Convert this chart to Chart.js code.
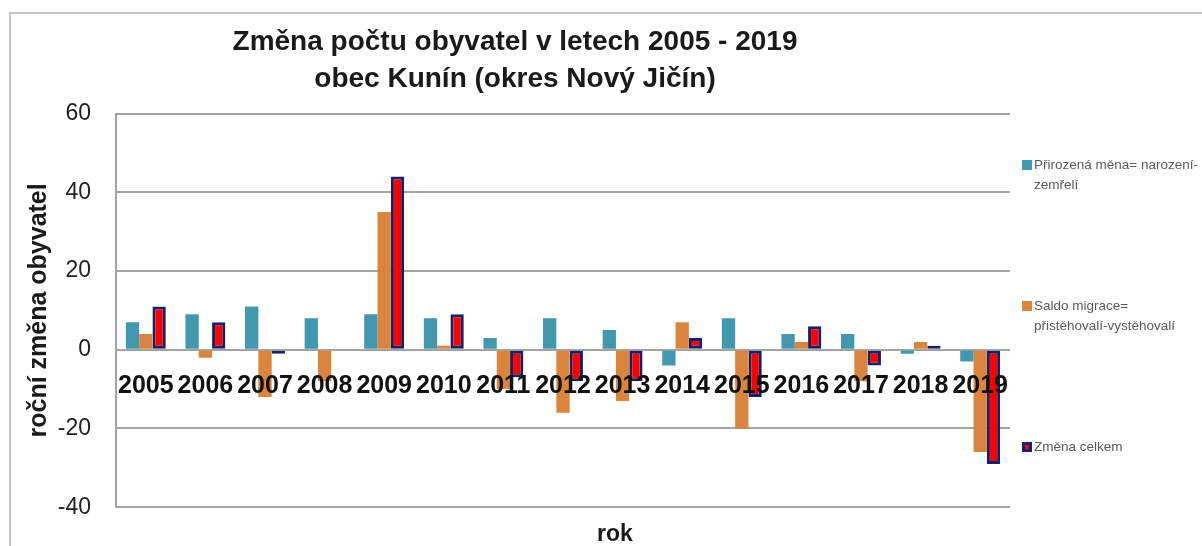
<!DOCTYPE html>
<html lang="cs">
<head>
<meta charset="utf-8">
<title>Změna počtu obyvatel</title>
<script src="https://cdn.jsdelivr.net/npm/chart.js@4.4.1/dist/chart.umd.min.js"></script>
<style>
  html, body { margin: 0; padding: 0; background: #fff; }
  #wrap { position: relative; width: 1202px; height: 546px; overflow: hidden; }
  #frame { position: absolute; left: 9px; top: 12px; right: -10px; bottom: -10px;
           border-top: 2px solid #c6c6c6; border-left: 2px solid #c6c6c6; }
  #chart { position: absolute; left: 0; top: 0; }
  .legend-item { position: absolute; left: 1022px; font: 13.5px "Liberation Sans", Arial, sans-serif;
                 color: #595959; line-height: 20px; white-space: nowrap; }
  .legend-item .box { position: absolute; left: 0; top: 5px; width: 10px; height: 10px; box-sizing: border-box; }
  .legend-item .txt { margin-left: 12px; }
</style>
</head>
<body>
<div id="wrap">
  <div id="frame"></div>
  <canvas id="chart" width="1202" height="546"></canvas>
  <div class="legend-item" style="top:155px">
    <span class="box" style="background:#4298ae"></span>
    <div class="txt">Přirozená měna= narození-<br>zemřelí</div>
  </div>
  <div class="legend-item" style="top:296px">
    <span class="box" style="background:#db843d"></span>
    <div class="txt">Saldo migrace=<br>přistěhovalí-vystěhovalí</div>
  </div>
  <div class="legend-item" style="top:437px">
    <span class="box" style="background:#ff0000;border:3px solid #13206a"></span>
    <div class="txt">Změna celkem</div>
  </div>
</div>
<script>
// Chart data
const years = ['2005', '2006', '2007', '2008', '2009', '2010', '2011', '2012',
  '2013', '2014', '2015', '2016', '2017', '2018', '2019'];
const naturalChange = [7, 9, 11, 8, 9, 8, 3, 8, 5, -4, 8, 4, 4, -1, -3];
const migration = [4, -2, -12, -8, 35, 1, -10, -16, -13, 7, -20, 2, -8, 2, -26];
const totalChange = [11, 7, -1, 0, 44, 9, -7, -8, -8, 3, -12, 6, -4, 1, -29];
const yTicks = [-40, -20, 0, 20, 40, 60];

const seriesNames = ['Přirozená měna= narození-zemřelí', 'Saldo migrace= přistěhovalí-vystěhovalí', 'Změna celkem'];

const FONT = '"Liberation Sans", Arial, sans-serif';
const gridColor = '#a3a3a3';

// "rok" label sits below the plot, a bit right of centre like the original
const axisNamePlugin = {
  id: 'axisName',
  afterDraw(chart) {
    const ctx = chart.ctx;
    ctx.save();
    ctx.font = 'bold 23px ' + FONT;
    ctx.fillStyle = '#1a1a1a';
    ctx.textAlign = 'center';
    ctx.textBaseline = 'middle';
    ctx.fillText('rok', 615, 535);
    ctx.restore();
  }
};

new Chart(document.getElementById('chart').getContext('2d'), {
  type: 'bar',
  data: {
    labels: years,
    datasets: [{
      label: seriesNames[0],
      data: naturalChange,
      backgroundColor: '#4298ae',
      borderWidth: 0,
    }, {
      label: seriesNames[1],
      data: migration,
      backgroundColor: '#db843d',
      borderWidth: 0,
    }, {
      label: seriesNames[2],
      data: totalChange,
      backgroundColor: '#ff0000',
      borderColor: '#13206a',
      borderWidth: 3,
      borderSkipped: false,
    }],
  },
  options: {
    responsive: false,
    animation: false,
    categoryPercentage: 0.67,
    barPercentage: 1.0,
    layout: {
      padding: { left: 20, right: 192, top: 0, bottom: 0 },
    },
    plugins: {
      legend: { display: false },
      tooltip: { enabled: false },
      title: {
        display: true,
        text: ['Změna počtu obyvatel v letech 2005 - 2019', 'obec Kunín (okres Nový Jičín)'],
        color: '#1a1a1a',
        font: { family: FONT, size: 28, weight: 'bold', lineHeight: 1.35 },
        padding: { top: 23, bottom: 15 },
      },
    },
    scales: {
      x: {
        position: { y: 0 },
        grid: { display: false, drawTicks: false },
        border: { display: false },
        ticks: {
          z: 1, // year labels sit on top of the bars
          autoSkip: false,
          maxRotation: 0,
          padding: 21,
          color: '#111',
          font: { family: FONT, size: 25, weight: 'bold' },
        },
        afterFit(scale) {
          scale.height = 32;
          scale.paddingLeft = 0;
          scale.paddingRight = 0;
        },
      },
      y: {
        min: yTicks[0],
        max: yTicks[yTicks.length - 1],
        afterBuildTicks(scale) {
          scale.ticks = yTicks.map(v => ({ value: v }));
        },
        ticks: {
          padding: 25,
          color: '#222',
          font: { family: FONT, size: 23 },
        },
        grid: { color: gridColor, lineWidth: 2, drawTicks: false },
        border: { color: gridColor, width: 2 },
        title: {
          display: true,
          text: 'roční změna obyvatel',
          color: '#1a1a1a',
          font: { family: FONT, size: 25, weight: 'bold' },
          padding: { top: 4, bottom: 4 },
        },
        afterFit(scale) {
          scale.width = 96;
        },
      },
    },
  },
  plugins: [axisNamePlugin],
});
</script>
</body>
</html>
